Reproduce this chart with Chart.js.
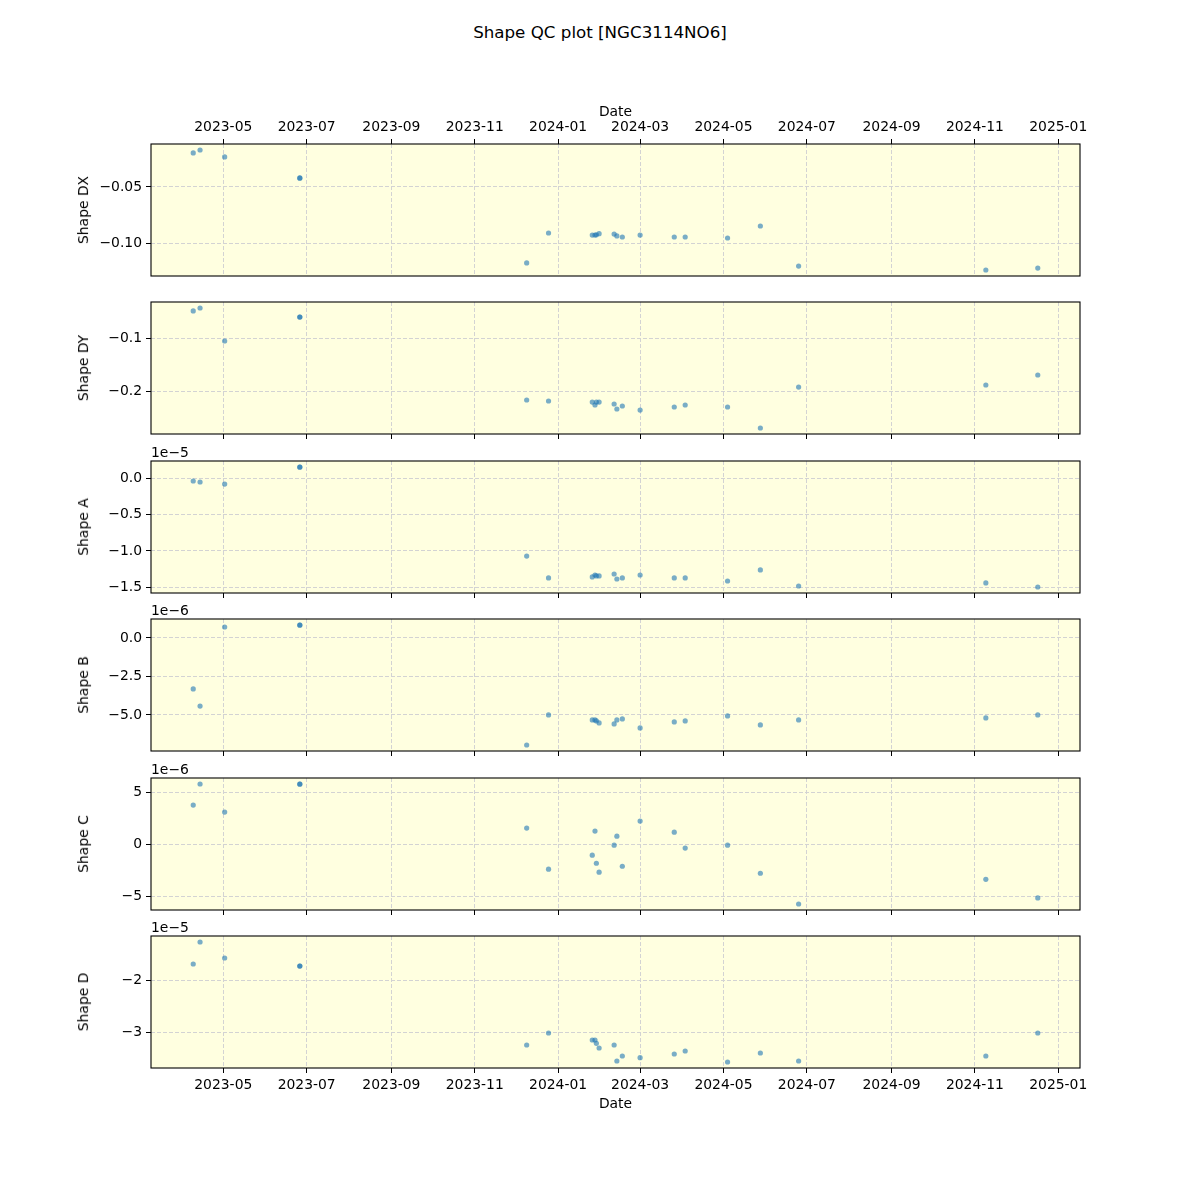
<!DOCTYPE html>
<html>
<head>
<meta charset="utf-8">
<script src="https://cdn.jsdelivr.net/npm/chart.js@4.4.1/dist/chart.umd.min.js"></script>
<style>
  body { margin: 0; background: #fff; }
  #fig { position: relative; width: 1200px; height: 1200px; font-family: "DejaVu Sans", sans-serif; color: #000; }
  #fig canvas { position: absolute; left: 0; }
  .txt { position: absolute; white-space: nowrap; line-height: 1; font-size: 13.9px; }
  .ylab { transform: translate(-50%, -50%) rotate(-90deg); }
</style>
</head>
<body>
<div id="fig"></div>
<script>
// observation dates (one point per exposure, 2023-06-26 appears twice)
const dates = [
  '2023-04-09', '2023-04-14', '2023-05-02', '2023-06-26', '2023-06-26',
  '2023-12-09', '2023-12-25', '2024-01-26', '2024-01-28', '2024-01-29',
  '2024-01-31', '2024-02-11', '2024-02-13', '2024-02-17', '2024-03-01',
  '2024-03-26', '2024-04-03', '2024-05-04', '2024-05-28', '2024-06-25',
  '2024-11-09', '2024-12-17'
];

const shapeDX = [-0.0200, -0.0174, -0.0235, -0.0420, -0.0422, -0.1170, -0.0906, -0.0924, -0.0924, -0.0922, -0.0912,
  -0.0915, -0.0932, -0.0941, -0.0924, -0.0941, -0.0941, -0.0950, -0.0844, -0.1197, -0.1232, -0.1215];
const shapeDY = [-0.0490, -0.0434, -0.1057, -0.0604, -0.0606, -0.2170, -0.2189, -0.2208, -0.2264, -0.2208, -0.2208,
  -0.2245, -0.2340, -0.2283, -0.2360, -0.2302, -0.2264, -0.2302, -0.2698, -0.1925, -0.1887, -0.1698];
const shapeA = [-0.032e-5, -0.046e-5, -0.074e-5, 0.162e-5, 0.160e-5, -1.071e-5, -1.375e-5, -1.361e-5, -1.334e-5, -1.347e-5, -1.347e-5,
  -1.320e-5, -1.389e-5, -1.375e-5, -1.334e-5, -1.375e-5, -1.375e-5, -1.417e-5, -1.264e-5, -1.486e-5, -1.444e-5, -1.500e-5];
const shapeB = [-3.31e-6, -4.42e-6, 0.71e-6, 0.84e-6, 0.83e-6, -6.95e-6, -5.00e-6, -5.32e-6, -5.32e-6, -5.39e-6, -5.52e-6,
  -5.58e-6, -5.32e-6, -5.26e-6, -5.84e-6, -5.45e-6, -5.39e-6, -5.06e-6, -5.65e-6, -5.32e-6, -5.19e-6, -5.00e-6];
const shapeC = [3.75e-6, 5.77e-6, 3.08e-6, 5.77e-6, 5.75e-6, 1.54e-6, -2.40e-6, -1.06e-6, 1.25e-6, -1.83e-6, -2.69e-6,
  -0.10e-6, 0.77e-6, -2.12e-6, 2.21e-6, 1.15e-6, -0.38e-6, -0.10e-6, -2.79e-6, -5.74e-6, -3.37e-6, -5.16e-6];
const shapeD = [-1.692e-5, -1.269e-5, -1.577e-5, -1.731e-5, -1.733e-5, -3.250e-5, -3.019e-5, -3.154e-5, -3.154e-5, -3.218e-5, -3.308e-5,
  -3.250e-5, -3.558e-5, -3.462e-5, -3.494e-5, -3.423e-5, -3.365e-5, -3.577e-5, -3.404e-5, -3.558e-5, -3.462e-5, -3.019e-5];

const xTickLabels = ['2023-05', '2023-07', '2023-09', '2023-11', '2024-01', '2024-03',
  '2024-05', '2024-07', '2024-09', '2024-11', '2025-01'];

const dxTicks = [-0.10, -0.05], dxTickLabels = ['−0.10', '−0.05'];
const dyTicks = [-0.2, -0.1], dyTickLabels = ['−0.2', '−0.1'];
const aTicks = [-1.5e-5, -1.0e-5, -0.5e-5, 0], aTickLabels = ['−1.5', '−1.0', '−0.5', '0.0'];
const bTicks = [-5e-6, -2.5e-6, 0], bTickLabels = ['−5.0', '−2.5', '0.0'];
const cTicks = [-5e-6, 0, 5e-6], cTickLabels = ['−5', '0', '5'];
const dTicks = [-3e-5, -2e-5], dTickLabels = ['−3', '−2'];

const panels = [
  { label: 'Shape DX', values: shapeDX, ticks: dxTicks, tickLabels: dxTickLabels, offset: '' },
  { label: 'Shape DY', values: shapeDY, ticks: dyTicks, tickLabels: dyTickLabels, offset: '' },
  { label: 'Shape A', values: shapeA, ticks: aTicks, tickLabels: aTickLabels, offset: '1e−5' },
  { label: 'Shape B', values: shapeB, ticks: bTicks, tickLabels: bTickLabels, offset: '1e−6' },
  { label: 'Shape C', values: shapeC, ticks: cTicks, tickLabels: cTickLabels, offset: '1e−6' },
  { label: 'Shape D', values: shapeD, ticks: dTicks, tickLabels: dTickLabels, offset: '1e−5' }
];

const FONT = { family: 'DejaVu Sans', size: 13.9 };
const toMs = s => { const [y, m, d] = s.split('-').map(Number); return Date.UTC(y, m - 1, d || 1); };
const xs = dates.map(toMs);
const xTickValues = xTickLabels.map(toMs);
const xSpan = Math.max(...xs) - Math.min(...xs);
const xMin = Math.min(...xs) - 0.05 * xSpan;
const xMax = Math.max(...xs) + 0.05 * xSpan;

const fig = document.getElementById('fig');
const AX_LEFT = 151, AX_RIGHT = 1080, AX_H = 132, FIRST_TOP = 144, STEP = 158.4;
const EXTRA = 50, H_TOP = 44, H_BOT = 45, H_MID = 6;

function addText(text, x, y, cls, size) {
  const el = document.createElement('div');
  el.className = 'txt ' + (cls || '');
  el.textContent = text;
  el.style.left = x + 'px';
  el.style.top = y + 'px';
  if (size) el.style.fontSize = size + 'px';
  fig.appendChild(el);
  return el;
}

const frame = {
  id: 'frame',
  beforeDraw(chart) {
    const a = chart.chartArea, ctx = chart.ctx;
    ctx.save();
    ctx.fillStyle = '#ffffe0';
    ctx.fillRect(a.left, a.top, a.right - a.left, a.bottom - a.top);
    ctx.restore();
  },
  afterDraw(chart) {
    const a = chart.chartArea, ctx = chart.ctx;
    ctx.save();
    ctx.strokeStyle = '#000';
    ctx.lineWidth = 1.1;
    ctx.strokeRect(a.left, a.top, a.right - a.left, a.bottom - a.top);
    ctx.restore();
  }
};

panels.forEach((p, i) => {
  const isTop = i === 0, isBottom = i === panels.length - 1;
  const axTop = Math.round(FIRST_TOP + i * STEP);
  const canvas = document.createElement('canvas');
  canvas.width = 1200;
  canvas.height = AX_H + 2 * EXTRA;
  canvas.style.top = (axTop - EXTRA) + 'px';
  fig.appendChild(canvas);

  const lo = Math.min(...p.values), hi = Math.max(...p.values), span = hi - lo;
  const xh = isTop ? H_TOP : isBottom ? H_BOT : H_MID;

  new Chart(canvas, {
    type: 'scatter',
    data: {
      datasets: [{
        data: xs.map((x, k) => ({ x: x, y: p.values[k] })),
        backgroundColor: 'rgba(31,119,180,0.6)',
        borderWidth: 0,
        pointRadius: 2.6
      }]
    },
    options: {
      responsive: false,
      animation: false,
      layout: {
        padding: {
          left: 0,
          right: 1200 - AX_RIGHT,
          top: isTop ? EXTRA - xh : EXTRA,
          bottom: isTop ? EXTRA : EXTRA - xh
        }
      },
      plugins: { legend: { display: false }, tooltip: { enabled: false } },
      scales: {
        x: {
          type: 'linear',
          position: isTop ? 'top' : 'bottom',
          min: xMin,
          max: xMax,
          afterBuildTicks: s => { s.ticks = xTickValues.map(v => ({ value: v })); },
          afterFit: s => { s.height = xh; },
          ticks: {
            display: isTop || isBottom,
            autoSkip: false,
            maxRotation: 0,
            padding: isTop ? 3 : 4,
            color: '#000',
            font: FONT,
            callback: (v, idx) => xTickLabels[idx]
          },
          grid: { color: '#d3d3d3', lineWidth: 1, tickColor: '#000', tickLength: 5, tickBorderDash: [], tickWidth: 1 },
          border: { display: false, dash: [4, 2] },
          title: {
            display: isTop || isBottom,
            text: 'Date',
            color: '#000',
            font: FONT,
            padding: { top: 4, bottom: 0 }
          }
        },
        y: {
          type: 'linear',
          min: lo - 0.05 * span,
          max: hi + 0.05 * span,
          afterBuildTicks: s => { s.ticks = p.ticks.map(v => ({ value: v })); },
          afterFit: s => { s.width = AX_LEFT; },
          ticks: {
            padding: 4,
            color: '#000',
            font: FONT,
            callback: (v, idx) => p.tickLabels[idx]
          },
          grid: { color: '#d3d3d3', lineWidth: 1, tickColor: '#000', tickLength: 5, tickBorderDash: [], tickWidth: 1 },
          border: { display: false, dash: [4, 2] }
        }
      }
    },
    plugins: [frame]
  });

  addText(p.label, 84, axTop + AX_H / 2, 'ylab');
  if (p.offset) addText(p.offset, AX_LEFT, axTop - 15);
});

const title = addText('Shape QC plot [NGC3114NO6]', 600, 24, '', 16.7);
title.style.transform = 'translateX(-50%)';
</script>
</body>
</html>
